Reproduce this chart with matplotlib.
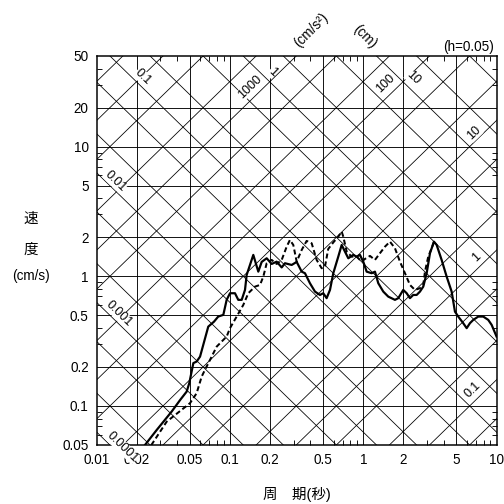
import matplotlib
matplotlib.use("Agg")
import matplotlib.pyplot as plt
import numpy as np
from matplotlib.ticker import FixedLocator, NullFormatter

plt.rcParams["font.family"] = ["Liberation Sans", "Noto Sans CJK JP"]

# period (s) and velocity response (cm/s), solid curve
t_solid = [0.021, 0.0282, 0.0365, 0.0422, 0.0473, 0.0495, 0.0531, 0.0562, 0.0596,
           0.0687, 0.0759, 0.0816, 0.0891, 0.0944, 0.100, 0.109, 0.1154, 0.1224,
           0.1296, 0.1334, 0.1496, 0.1631, 0.1729, 0.1885, 0.2055, 0.224, 0.2443,
           0.2586, 0.2904, 0.3165, 0.3451, 0.3652, 0.398, 0.4342, 0.4733, 0.501,
           0.531, 0.5627, 0.5957, 0.6494, 0.6887, 0.729, 0.772, 0.841, 0.892, 0.944,
           1.0, 1.06, 1.156, 1.224, 1.296, 1.413, 1.54, 1.729, 1.831, 1.995, 2.117,
           2.24, 2.371, 2.516, 2.663, 2.819, 2.99, 3.166, 3.392, 3.553, 3.873, 4.224,
           4.604, 4.875, 5.161, 5.624, 5.968, 6.318, 6.688, 7.291, 7.948, 8.666,
           9.19, 10.0]
sv_solid = [0.0443, 0.0653, 0.0905, 0.111, 0.129, 0.150, 0.214, 0.220, 0.240,
            0.409, 0.447, 0.489, 0.504, 0.658, 0.740, 0.740, 0.658, 0.658,
            0.785, 1.025, 1.462, 1.086, 1.291, 1.377, 1.245, 1.297, 1.170,
            1.261, 1.223, 1.291, 1.086, 1.056, 0.884, 0.762, 0.718, 0.740,
            0.678, 0.785, 1.056, 1.418, 1.745, 1.549, 1.377, 1.462, 1.418, 1.462,
            1.297, 1.086, 1.056, 1.086, 0.884, 0.762, 0.697, 0.658, 0.678, 0.785, 0.740,
            0.678, 0.718, 0.718, 0.762, 0.832, 1.056, 1.506, 1.849, 1.745, 1.337, 0.994,
            0.762, 0.534, 0.489, 0.435, 0.398, 0.435, 0.461, 0.489, 0.489, 0.461,
            0.422, 0.343]

# dashed curve
t_dash = [0.0238, 0.0335, 0.0501, 0.0562, 0.0613, 0.0649, 0.0708, 0.0795, 0.0944,
          0.100, 0.1122, 0.1258, 0.1372, 0.154, 0.168, 0.1778, 0.1885, 0.2055,
          0.224, 0.2443, 0.2663, 0.2817, 0.2985, 0.3165, 0.3451, 0.376, 0.410,
          0.447, 0.4875, 0.516, 0.546, 0.5957, 0.6494, 0.6887, 0.708, 0.751,
          0.818, 0.892, 0.973, 1.030, 1.123, 1.224, 1.334, 1.455, 1.586, 1.729,
          1.885, 2.055, 2.24, 2.443, 2.663, 2.819, 2.904, 3.073, 3.26, 3.392]
sv_dash = [0.0443, 0.0757, 0.105, 0.1254, 0.1684, 0.190, 0.2265, 0.287, 0.343,
           0.398, 0.489, 0.601, 0.740, 0.832, 0.858, 0.994, 1.261, 1.337,
           1.245, 1.337, 1.693, 1.907, 1.745, 1.297, 1.596, 1.874, 1.798,
           1.337, 1.153, 1.187, 1.625, 1.824, 2.022, 2.21, 2.022, 1.549,
           1.418, 1.418, 1.297, 1.361, 1.436, 1.337, 1.506, 1.693, 1.849, 1.646,
           1.297, 1.056, 0.858, 0.785, 0.809, 0.858, 1.086, 1.418, 1.646, 1.849]

x_ticks = [0.01, 0.02, 0.05, 0.1, 0.2, 0.5, 1, 2, 5, 10]
x_labels = ["0.01", "0.02", "0.05", "0.1", "0.2", "0.5", "1", "2", "5", "10"]
y_ticks = [0.05, 0.1, 0.2, 0.5, 1, 2, 5, 10, 20, 50]
y_labels = ["0.05", "0.1", "0.2", "0.5", "1", "2", "5", "10", "20", "50"]

# diagonal scales: displacement (cm) and acceleration (cm/s2)
disp_lines = [m * 10.0 ** k for k in range(-5, 3) for m in (1, 2, 5)]
acc_lines = [m * 10.0 ** k for k in range(-2, 6) for m in (1, 2, 5)]

# labels on the diagonals: (text, period, velocity)
disp_labels = [("0.1", 0.0222, 34.4), ("0.01", 0.0137, 5.43), ("0.001", 0.0147, 0.513),
               ("0.0001", 0.0155, 0.0483), ("1", 0.21, 37.6), ("10", 2.36, 33.8)]
acc_labels = [("1000", 0.1413, 28.8), ("100", 1.479, 30.4), ("10", 6.79, 12.7),
              ("1", 7.1, 1.41), ("0.1", 6.66, 0.133)]

fs = 13.5
fs_cjk = 14.5

fig = plt.figure(figsize=(7, 7), dpi=72)
ax = fig.add_axes([0.1919, 0.1171, 0.7933, 0.7718])
ax.set_xscale("log")
ax.set_yscale("log")
ax.set_xlim(0.01, 10)
ax.set_ylim(0.05, 50)

tt = np.array([0.005, 20.0])
for d in disp_lines:
    ax.plot(tt, 2 * np.pi * d / tt, color="black", lw=0.8, zorder=1)
for a in acc_lines:
    ax.plot(tt, a * tt / (2 * np.pi), color="black", lw=0.8, zorder=1)

for x in x_ticks[1:-1]:
    ax.axvline(x, color="black", lw=0.9, zorder=1)
for y in y_ticks[1:-1]:
    ax.axhline(y, color="black", lw=0.9, zorder=1)

for s, t, v in disp_labels:
    ax.text(t, v, s, rotation=-44, rotation_mode="anchor", ha="center", va="center",
            fontsize=12.5, zorder=3, clip_on=False,
            bbox=dict(facecolor="white", edgecolor="none", pad=0.3))
for s, t, v in acc_labels:
    ax.text(t, v, s, rotation=44, rotation_mode="anchor", ha="center", va="center",
            fontsize=12.5, zorder=3,
            bbox=dict(facecolor="white", edgecolor="none", pad=0.3))

ax.plot(t_solid, sv_solid, color="black", lw=2.2, zorder=4)
ax.plot(t_dash, sv_dash, color="black", lw=2.0, ls=(0, (2.5, 1.5)), zorder=4)

ax.xaxis.set_major_locator(FixedLocator(x_ticks))
ax.yaxis.set_major_locator(FixedLocator(y_ticks))
ax.set_xticklabels(x_labels)
ax.set_yticklabels(y_labels)
ax.xaxis.set_minor_locator(matplotlib.ticker.LogLocator(subs=(3, 4, 6, 7, 8, 9)))
ax.yaxis.set_minor_locator(matplotlib.ticker.LogLocator(subs=(3, 4, 6, 7, 8, 9)))
ax.xaxis.set_minor_formatter(NullFormatter())
ax.yaxis.set_minor_formatter(NullFormatter())
ax.tick_params(which="major", length=0, pad=8, labelsize=fs)
ax.tick_params(which="minor", direction="in", length=5, width=0.9,
               top=True, right=True, bottom=True, left=True)
for sp in ax.spines.values():
    sp.set_linewidth(1.5)

fig.text(31 / 504, 1 - 219 / 504, "速", ha="center", va="center", fontsize=fs_cjk)
fig.text(31 / 504, 1 - 250 / 504, "度", ha="center", va="center", fontsize=fs_cjk)
fig.text(31 / 504, 1 - 276 / 504, "(cm/s)", ha="center", va="center", fontsize=fs)
fig.text(297 / 504, 1 - 494 / 504, "周　期(秒)", ha="center", va="center", fontsize=fs_cjk)

fig.text(311 / 504, 1 - 30 / 504, "(cm/s²)", rotation=45, ha="center", va="center", fontsize=fs)
fig.text(365 / 504, 1 - 37 / 504, "(cm)", rotation=-45, ha="center", va="center", fontsize=fs)
fig.text(494 / 504, 1 - 51 / 504, "(h=0.05)", ha="right", va="baseline", fontsize=fs)

fig.savefig("out.png", dpi=72)
